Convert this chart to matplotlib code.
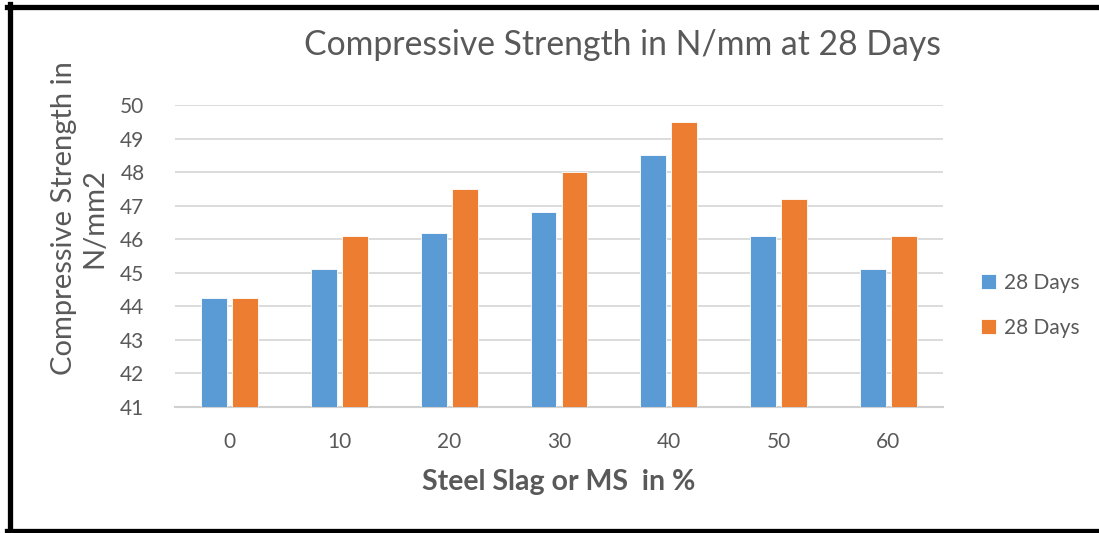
import numpy as np
import matplotlib
matplotlib.use("Agg")
import matplotlib.pyplot as plt
from matplotlib.lines import Line2D

plt.rcParams['font.family'] = ['Lato', 'DejaVu Sans']

categories = ['0', '10', '20', '30', '40', '50', '60']
series_a = [44.25, 45.1, 46.2, 46.8, 48.5, 46.1, 45.1]
series_b = [44.25, 46.1, 47.5, 48.0, 49.5, 47.2, 46.1]
legend_labels = ['28 Days', '28 Days']
y_ticks = [41, 42, 43, 44, 45, 46, 47, 48, 49, 50]

text_col = '#595959'
blue = '#5B9BD5'
orange = '#ED7D31'

fig = plt.figure(figsize=(10.99, 5.33), dpi=100)
ax = fig.add_axes([175 / 1099, 1 - 407 / 533, 768 / 1099, 302 / 533])

x = np.arange(len(categories))
w = 0.235
off = 0.141
ax.bar(x - off, series_a, w, color=blue, edgecolor='white',
       linewidth=0.6, label=legend_labels[0], zorder=3)
ax.bar(x + off, series_b, w, color=orange, edgecolor='white',
       linewidth=0.6, label=legend_labels[1], zorder=3)

ax.set_ylim(41, 50)
ax.set_xlim(-0.5, len(categories) - 0.5)
ax.set_yticks(y_ticks)
ax.set_xticks(x)
ax.set_xticklabels(categories)
ax.tick_params(axis='both', length=0, labelsize=15, colors=text_col)
ax.tick_params(axis='y', pad=22)
ax.tick_params(axis='x', pad=18)
ax.grid(axis='y', color='#d9d9d9', linewidth=1.3, zorder=0)
for s in ['top', 'right', 'left']:
    ax.spines[s].set_visible(False)
ax.spines['bottom'].set_color('#d0d0d0')
ax.spines['bottom'].set_linewidth(1.5)

ax.set_ylabel('Compressive Strength in\nN/mm2', fontsize=21, color=text_col,
              linespacing=1.2)
ax.yaxis.set_label_coords(-0.088, 0.626)
ax.set_xlabel('Steel Slag or MS  in %', fontsize=20.5, fontweight='bold',
              color=text_col, labelpad=12)

fig.text(0.566, 0.916, 'Compressive Strength in N/mm at 28 Days',
         fontsize=24.3, color=text_col, ha='center', va='center')

leg = fig.legend(loc='center left', bbox_to_anchor=(0.876, 0.427),
                 frameon=False, fontsize=15, labelcolor=text_col,
                 handlelength=0.7, handleheight=0.7, handletextpad=0.4,
                 labelspacing=1.2)

# black frame around the picture (right side is cut off)
fig.add_artist(Line2D([9.5 / 1099, 9.5 / 1099], [0.0, 1 - 4 / 533],
                      color='black', linewidth=3.8, transform=fig.transFigure))
fig.add_artist(Line2D([7 / 1099, 1.0], [1 - 6.5 / 533, 1 - 6.5 / 533],
                      color='black', linewidth=3.8, transform=fig.transFigure))
fig.add_artist(Line2D([7 / 1099, 1.0], [1 - 530.5 / 533, 1 - 530.5 / 533],
                      color='black', linewidth=3.8, transform=fig.transFigure))

fig.savefig('out.png', dpi=100)
